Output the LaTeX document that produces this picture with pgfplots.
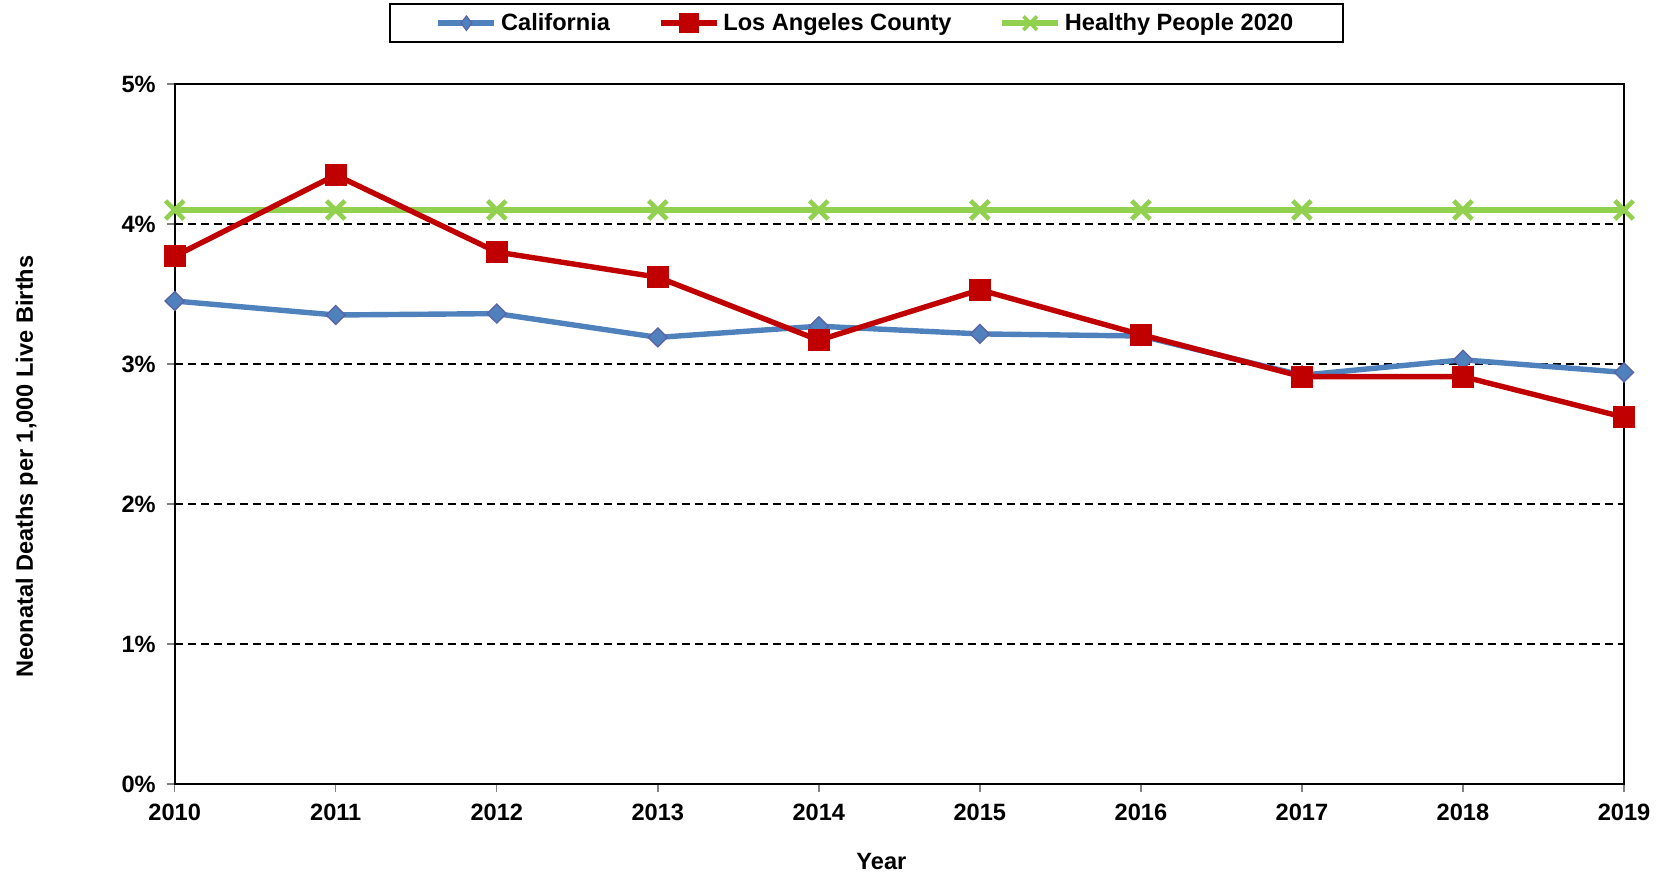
\documentclass[border=0pt]{standalone}
\usepackage{pgfplots}
\pgfplotsset{compat=1.18}
\usepackage{fontspec}
\setmainfont{Liberation Sans}
\definecolor{calblue}{RGB}{79,129,189}
\definecolor{caledge}{RGB}{92,100,168}
\definecolor{lared}{RGB}{192,0,0}
\definecolor{hpgreen}{RGB}{146,208,80}
\begin{document}
\begin{tikzpicture}
\useasboundingbox (-87.35pt,-45.5pt) rectangle (744.15pt,392pt);
\begin{axis}[
  at={(0,0)}, anchor=south west,
  scale only axis, width=724.65pt, height=350pt,
  xmin=2010, xmax=2019, ymin=0, ymax=5,
  xtick={2010,2011,2012,2013,2014,2015,2016,2017,2018,2019},
  xticklabels={2010,2011,2012,2013,2014,2015,2016,2017,2018,2019},
  ytick={0,1,2,3,4,5},
  yticklabels={0\%,1\%,2\%,3\%,4\%,5\%},
  font=\fontsize{11.8}{14}\selectfont\bfseries,
  ymajorgrids,
  grid style={black, dash pattern=on 4pt off 2.5pt, line width=0.75pt},
  axis line style={black, line width=1pt},
  tick style={gray, line width=0.7pt},
  tick align=outside, major tick length=4pt,
  xtick pos=bottom, ytick pos=left,
  yticklabel style={xshift=-2pt},
  xticklabel style={yshift=-2.5pt},
  clip=false,
  xlabel={Year},
  ylabel={Neonatal Deaths per 1,000 Live Births},
  every axis x label/.style={at={([yshift=-38.5pt]axis description cs:0.4876,0)}, anchor=center},
  every axis y label/.style={at={([xshift=-74pt]axis description cs:0,0.4534)}, anchor=center, rotate=90},
  legend columns=3,
  legend style={at={(axis description cs:0.4773,1.1157)}, anchor=north,
    draw=black, line width=1.1pt, inner xsep=23pt, inner ysep=2.5pt,
    font=\fontsize{11.8}{14}\selectfont\bfseries,
    /tikz/every even column/.append style={column sep=22pt},
    /tikz/every odd column/.append style={column sep=0pt}},
  legend cell align=left,
  legend image code/.code={\draw[#1] plot coordinates {(0pt,0pt) (14pt,0pt) (28pt,0pt)};},
]
\addplot[hpgreen, line width=2.7pt, mark=x, mark size=6.5pt, mark options={line width=2.3pt}, forget plot]
  coordinates {(2010,4.1) (2011,4.1) (2012,4.1) (2013,4.1) (2014,4.1) (2015,4.1) (2016,4.1) (2017,4.1) (2018,4.1) (2019,4.1)};
\addplot[calblue, line width=2.7pt, mark=diamond*, mark size=4.7pt, mark options={fill=calblue, draw=caledge, line width=0.7pt, xscale=1.35}, forget plot]
  coordinates {(2010,3.45) (2011,3.35) (2012,3.36) (2013,3.19) (2014,3.27) (2015,3.215) (2016,3.20) (2017,2.92) (2018,3.03) (2019,2.94)};
\addplot[lared, line width=2.7pt, mark=square*, mark size=5.3pt, mark options={fill=lared, draw=lared, line width=0.5pt}, forget plot]
  coordinates {(2010,3.77) (2011,4.35) (2012,3.80) (2013,3.62) (2014,3.17) (2015,3.53) (2016,3.21) (2017,2.91) (2018,2.91) (2019,2.62)};
\addlegendimage{calblue, line width=2.7pt, mark=diamond*, mark repeat=2, mark phase=2, mark size=3.6pt, mark options={fill=calblue, draw=caledge, line width=0.6pt}}
\addlegendentry{California}
\addlegendimage{lared, line width=2.7pt, mark=square*, mark repeat=2, mark phase=2, mark size=3.6pt, mark options={fill=lared, draw=lared}}
\addlegendentry{Los Angeles County}
\addlegendimage{hpgreen, line width=2.7pt, mark=x, mark repeat=2, mark phase=2, mark size=4.8pt, mark options={line width=1.8pt}}
\addlegendentry{Healthy People 2020}
\end{axis}
\end{tikzpicture}
\end{document}
